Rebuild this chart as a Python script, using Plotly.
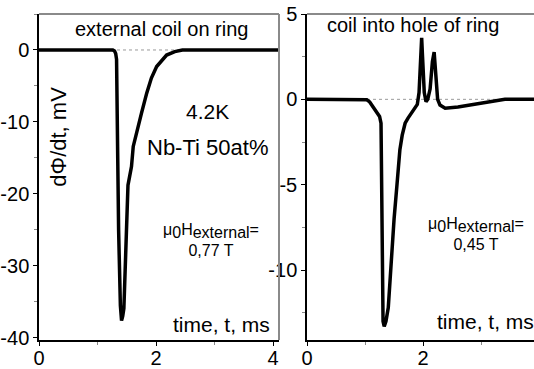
import plotly.graph_objects as go

# ---- data ----
t_left = [0, 1.0, 1.2, 1.26, 1.29, 1.31, 1.325, 1.335, 1.345, 1.36, 1.375, 1.39, 1.41, 1.43, 1.45,
          1.47, 1.48, 1.51, 1.52, 1.55, 1.58, 1.61, 1.67, 1.75, 1.84, 1.92, 2.01, 2.12,
          2.18, 2.32, 2.45, 2.8, 3.4, 4.1]
v_left = [0, 0, 0, 0, -0.15, -0.5, -1.3, -6.0, -15.0, -25.0, -31.5, -35.5, -37.6, -37.0, -35.9,
          -31.3, -28.0, -23.4, -18.8, -17.5, -16.2, -13.4, -11.6, -8.8, -6.0, -3.9, -2.3, -1.15,
          -0.7, -0.23, 0, 0, 0, 0]

t_right = [0, 0.5, 1.0, 1.03, 1.08, 1.14, 1.20, 1.25, 1.275, 1.285, 1.295, 1.31, 1.33, 1.36,
           1.40, 1.46, 1.50, 1.55, 1.575, 1.60, 1.64, 1.69, 1.74, 1.80, 1.85, 1.90, 1.93, 1.96,
           1.975, 1.99, 2.02, 2.05, 2.08, 2.12, 2.16, 2.19, 2.22, 2.25, 2.29, 2.38, 2.6, 2.84,
           3.1, 3.41, 3.7, 3.91]
v_right = [0, 0, 0, -0.03, -0.15, -0.43, -0.75, -1.0, -1.4, -5.0, -12.0, -13.0, -13.3, -13.0,
           -12.2, -8.9, -7.0, -5.0, -3.9, -2.95, -2.1, -1.4, -1.1, -0.8, -0.55, -0.3, 0.4, 2.8,
           3.6, 2.5, 0.4, -0.14, 0.0, 0.6, 2.2, 2.77, 1.5, 0.0, -0.33, -0.52, -0.45, -0.33,
           -0.2, 0, 0, 0]

left_xticks = [0, 2, 4]
left_yticks = [0, -10, -20, -30, -40]
right_xticks = [0, 2, 4]
right_yticks = [5, 0, -5, -10]

FONT = "Liberation Sans, Arial, sans-serif"
W, H = 534, 369

fig = go.Figure()
fig.add_trace(go.Scatter(x=t_left, y=v_left, mode="lines", xaxis="x", yaxis="y",
                         line=dict(color="black", width=3.5), hoverinfo="skip"))
fig.add_trace(go.Scatter(x=t_right, y=v_right, mode="lines", xaxis="x2", yaxis="y2",
                         line=dict(color="black", width=3.5), hoverinfo="skip"))

axis_common = dict(showgrid=False, zeroline=False, showline=True, linecolor="black",
                   linewidth=1.5, ticks="outside", ticklen=4, tickwidth=1.2,
                   tickcolor="black", color="black", automargin=False)
minor_x = dict(ticks="outside", ticklen=3, tickcolor="#888888", tickwidth=1, dtick=1)

fig.update_layout(
    width=W, height=H,
    margin=dict(l=0, r=0, t=14, b=29, autoexpand=False),
    paper_bgcolor="white", plot_bgcolor="white",
    showlegend=False,
    font=dict(family=FONT, color="black"),
    xaxis=dict(domain=[39 / W, 279 / W], range=[0, 4.1], anchor="y",
               tickvals=left_xticks, ticktext=[str(v) for v in left_xticks],
               tickfont=dict(size=20), ticklabelstandoff=-5, minor=minor_x, **axis_common),
    yaxis=dict(domain=[0, 1], range=[-40.3, 5.0], anchor="x",
               tickvals=left_yticks, ticktext=[str(v) for v in left_yticks],
               tickfont=dict(size=20),
               minor=dict(ticks="outside", ticklen=3, tickcolor="#888888", dtick=5),
               **axis_common),
    xaxis2=dict(domain=[307 / W, 1.0], range=[0, 3.91], anchor="y2",
                tickvals=right_xticks, ticktext=[str(v) for v in right_xticks],
                tickfont=dict(size=20), ticklabelstandoff=-5, minor=minor_x, **axis_common),
    yaxis2=dict(domain=[0, 1], range=[-14.1, 5.0], anchor="x2",
                tickvals=right_yticks, ticktext=[str(v) for v in right_yticks],
                tickfont=dict(size=20),
                minor=dict(ticks="outside", ticklen=3, tickcolor="#888888", dtick=2.5),
                **axis_common),
)

gray = "#8a8a8a"
shapes = [
    dict(type="line", xref="x domain", yref="y domain", x0=0, x1=1, y0=1, y1=1,
         line=dict(color=gray, width=2)),
    dict(type="line", xref="x domain", yref="y domain", x0=1, x1=1, y0=0, y1=1,
         line=dict(color=gray, width=2)),
    dict(type="line", xref="x2 domain", yref="y2 domain", x0=0, x1=1, y0=1, y1=1,
         line=dict(color=gray, width=2)),
    dict(type="line", xref="x domain", yref="y", x0=0, x1=1, y0=0, y1=0, layer="below",
         line=dict(color="#9a9a9a", width=1, dash="dot")),
    dict(type="line", xref="x2 domain", yref="y2", x0=0, x1=1, y0=0, y1=0, layer="below",
         line=dict(color="#9a9a9a", width=1, dash="dot")),
]
fig.update_layout(shapes=shapes)

sub16 = '<sub><span style="font-size:16px">{}</span></sub>'
ann = [
    dict(xref="x", yref="y", x=2.09, y=2.9, text="external coil on ring", font=dict(size=20)),
    dict(xref="x", yref="y", x=2.88, y=-8.5, text="4.2K", font=dict(size=21)),
    dict(xref="x", yref="y", x=2.87, y=-13.5, text="Nb-Ti 50at%", font=dict(size=22)),
    dict(xref="x", yref="y", x=2.94, y=-26.4,
         text="\u03bc" + sub16.format("0") + "H" + sub16.format("external") + "=<br>0,77 T",
         font=dict(size=16)),
    dict(xref="x", yref="y", x=3.12, y=-38.2, text="time, t, ms", font=dict(size=21)),
    dict(xref="x", yref="y", x=0.33, y=-12.0, text="d\u03a6/dt, mV", textangle=-90,
         font=dict(size=22)),
    dict(xref="x2", yref="y2", x=1.83, y=4.35, text="coil into hole of ring", font=dict(size=20)),
    dict(xref="x2", yref="y2", x=2.91, y=-7.9,
         text="\u03bc" + sub16.format("0") + "H" + sub16.format("external") + "=<br>0,45 T",
         font=dict(size=16)),
    dict(xref="x2", yref="y2", x=3.07, y=-13.0, text="time, t, ms", font=dict(size=21)),
]
for a in ann:
    a.update(showarrow=False, xanchor="center", yanchor="middle")
fig.update_layout(annotations=ann)

fig.write_html("out.html")
